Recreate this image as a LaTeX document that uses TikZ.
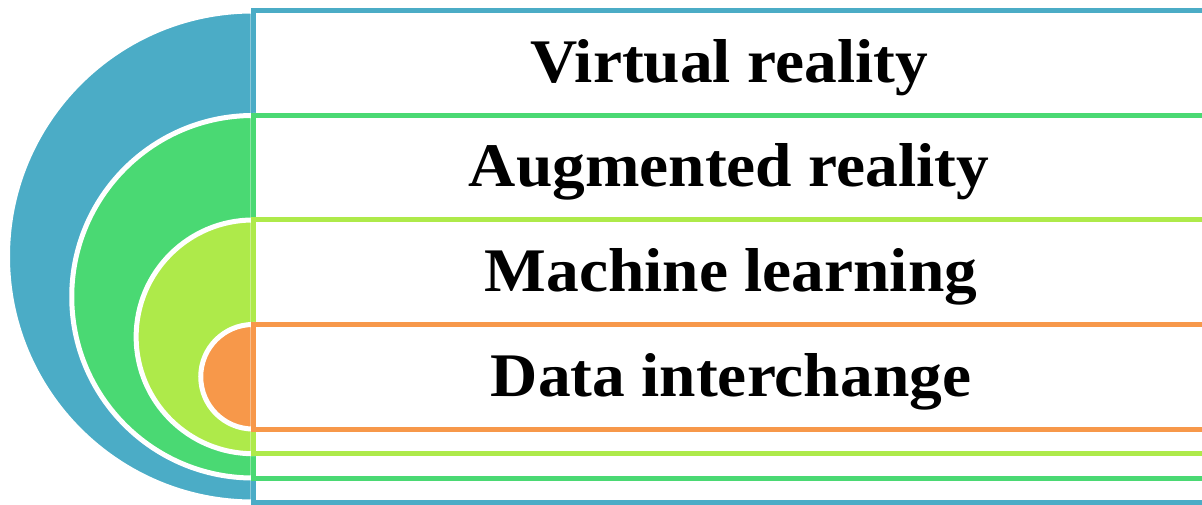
\documentclass[tikz,border=0pt]{standalone}
\usepackage{fontspec}
\setmainfont{Liberation Serif}
\definecolor{cblue}{HTML}{4BACC6}
\definecolor{cgreen}{HTML}{4AD973}
\definecolor{clime}{HTML}{AEEA4A}
\definecolor{corange}{HTML}{F7984A}
\tikzset{
  halfdisc/.style={fill=#1, draw=white, line width=5pt},
  band/.style={draw=#1, fill=white, line width=5pt},
  label/.style={anchor=base, font=\bfseries\fontsize{62}{70}\selectfont, inner sep=0pt, xscale=1.055}
}
\begin{document}
\begin{tikzpicture}[x=1pt,y=1pt]
\useasboundingbox (0,0) rectangle (1202,504);
% blue
\filldraw[halfdisc=cblue] (253,493) arc[start angle=90,end angle=270,radius=245.5] -- cycle;
\draw[band=cblue] (253,2) rectangle (1215,493);
% green
\filldraw[halfdisc=cgreen] (253,388.5) arc[start angle=90,end angle=270,radius=181.25] -- cycle;
\draw[band=cgreen] (253,26) rectangle (1215,388.5);
% lime
\filldraw[halfdisc=clime] (253,284) arc[start angle=90,end angle=270,radius=116.85] -- cycle;
\draw[band=clime] (253,50.3) rectangle (1215,284);
% orange
\filldraw[halfdisc=corange] (253,179.5) arc[start angle=90,end angle=270,radius=52.25] -- cycle;
\draw[band=corange] (253,75) rectangle (1215,179.5);
% labels
\node[label] (t1) at (729,421) {Virtual reality};
\node[label] (t2) at (729,317) {Augmented reality};
\node[label] (t3) at (731,213) {Machine learning};
\node[label] (t4) at (731,108) {Data interchange};
\end{tikzpicture}
\end{document}
